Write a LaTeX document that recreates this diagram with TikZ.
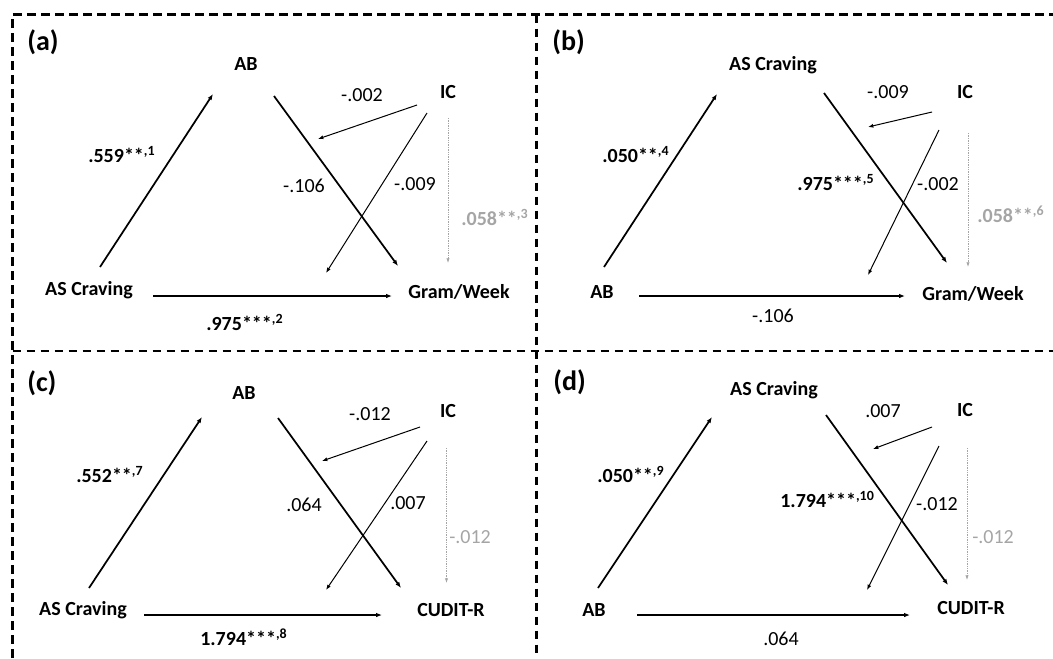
\documentclass[tikz,border=0pt]{standalone}
\usepackage{fontspec}
\setmainfont{Carlito}
\usetikzlibrary{arrows.meta,calc}
\definecolor{dimgray}{RGB}{165,165,165}

\begin{document}
\begin{tikzpicture}[x=0.75pt, y=-0.75pt,
    var/.style={anchor=base, inner sep=0pt, font=\fontsize{15}{18}\selectfont\bfseries},
    coef/.style={anchor=base, inner sep=0pt, font=\fontsize{15}{18}\selectfont},
    coefb/.style={coef, anchor=base west, font=\fontsize{15}{18}\selectfont\bfseries},
    tag/.style={anchor=base west, inner sep=0pt, font=\fontsize{21}{24}\selectfont\bfseries},
    pth/.style={line width=1.3pt, -{Latex[length=4.5pt,width=3.5pt]}},
    icpth/.style={line width=0.75pt, -{Latex[length=4pt,width=3pt]}},
    dotpth/.style={draw=dimgray, line width=0.6pt, dash pattern=on 1pt off 0.8pt, -{Latex[length=3.5pt,width=2.5pt]}},
    boxline/.style={line width=1.7pt, dash pattern=on 6.5pt off 4pt}
]
    \useasboundingbox (0,0) rectangle (1053,658);

    % dashed frame
    \draw[boxline] (12.5,658) -- (12.5,14.5) -- (1053,14.5);
    \draw[boxline] (536.5,14.5) -- (536.5,658);
    \draw[boxline] (12.5,351) -- (1053,351);

    % (a)
    \node[tag] (a-tag) at (27,50) {(a)};
    \node[var] (a-top) at (246,70) {AB};
    \node[var] (a-ic) at (448,98) {IC};
    \node[var] (a-left) at (89,295) {AS Craving};
    \node[var] (a-out) at (459,298) {Gram/Week};
    \coordinate (a-m1) at (318,139);
    \coordinate (a-m2) at (326,273);
    \draw[pth] ($(a-left.base)+(11,-28)$) -- ($(a-top.base)+(-33,24)$);
    \draw[pth] ($(a-top.base)+(28,26)$) -- ($(a-out.base)+(-61,-32)$);
    \draw[pth] ($(a-left.base)+(64,1)$) -- ($(a-out.base)+(-67,-2)$);
    \draw[icpth] ($(a-ic.base)+(-31,7)$) -- (a-m1);
    \draw[icpth] ($(a-ic.base)+(-21,15)$) -- (a-m2);
    \draw[dotpth] ($(a-ic.base)+(0,20)$) -- ($(a-out.base)+(-11,-35)$);
    \node[coefb] (a-c1) at (88,162) {.559**\textsuperscript{,1}};
    \node[coef] (a-c2) at (304,192) {-.106};
    \node[coef] (a-c3) at (415,190) {-.009};
    \node[coef] (a-c4) at (362,101) {-.002};
    \node[coefb, text=dimgray] (a-c5) at (461,225) {.058**\textsuperscript{,3}};
    \node[coefb] (a-c6) at (206,330) {.975***\textsuperscript{,2}};

    % (b)
    \node[tag] (b-tag) at (552,50) {(b)};
    \node[var] (b-top) at (773,70) {AS Craving};
    \node[var] (b-ic) at (965,98) {IC};
    \node[var] (b-left) at (602,298) {AB};
    \node[var] (b-out) at (973,300) {Gram/Week};
    \coordinate (b-m1) at (868,127);
    \coordinate (b-m2) at (868,275);
    \draw[pth] ($(b-left.base)+(2,-31)$) -- ($(b-top.base)+(-56,24)$);
    \draw[pth] ($(b-top.base)+(51,23)$) -- ($(b-out.base)+(-26,-37)$);
    \draw[pth] ($(b-left.base)+(37,-2)$) -- ($(b-out.base)+(-68,-4)$);
    \draw[icpth] ($(b-ic.base)+(-33,14)$) -- (b-m1);
    \draw[icpth] ($(b-ic.base)+(-26,32)$) -- (b-m2);
    \draw[dotpth] ($(b-ic.base)+(3,35)$) -- ($(b-out.base)+(-5,-33)$);
    \node[coefb] (b-c1) at (602,162) {.050**\textsuperscript{,4}};
    \node[coefb] (b-c2) at (797,190) {.975***\textsuperscript{,5}};
    \node[coef] (b-c3) at (938,190) {-.002};
    \node[coef] (b-c4) at (888,98) {-.009};
    \node[coefb, text=dimgray] (b-c5) at (977,222) {.058**\textsuperscript{,6}};
    \node[coef] (b-c6) at (773,322) {-.106};

    % (c)
    \node[tag] (c-tag) at (27,391) {(c)};
    \node[var] (c-top) at (244,399) {AB};
    \node[var] (c-ic) at (448,417) {IC};
    \node[var] (c-left) at (83,615) {AS Craving};
    \node[var] (c-out) at (451,616) {CUDIT-R};
    \coordinate (c-m1) at (322,461);
    \coordinate (c-m2) at (326,590);
    \draw[pth] ($(c-left.base)+(6,-27)$) -- ($(c-top.base)+(-42,18)$);
    \draw[pth] ($(c-top.base)+(34,19)$) -- ($(c-out.base)+(-50,-28)$);
    \draw[pth] ($(c-left.base)+(61,0)$) -- ($(c-out.base)+(-69,-1)$);
    \draw[icpth] ($(c-ic.base)+(-28,10)$) -- (c-m1);
    \draw[icpth] ($(c-ic.base)+(-21,24)$) -- (c-m2);
    \draw[dotpth] ($(c-ic.base)+(-1.5,31)$) -- ($(c-out.base)+(-4.5,-33)$);
    \node[coefb] (c-c1) at (76,482) {.552**\textsuperscript{,7}};
    \node[coef] (c-c2) at (304,511) {.064};
    \node[coef] (c-c3) at (408,509) {.007};
    \node[coef] (c-c4) at (370,420) {-.012};
    \node[coef, anchor=base west, text=dimgray] (c-c5) at (449,543) {-.012};
    \node[coefb] (c-c6) at (200,645) {1.794***\textsuperscript{,8}};

    % (d)
    \node[tag] (d-tag) at (553,390) {(d)};
    \node[var] (d-top) at (774,395) {AS Craving};
    \node[var] (d-ic) at (965,416) {IC};
    \node[var] (d-left) at (594,616) {AB};
    \node[var] (d-out) at (971,614) {CUDIT-R};
    \coordinate (d-m1) at (873,449);
    \coordinate (d-m2) at (867,590);
    \draw[pth] ($(d-left.base)+(4,-28)$) -- ($(d-top.base)+(-62,22)$);
    \draw[pth] ($(d-top.base)+(52,20)$) -- ($(d-out.base)+(-23,-29)$);
    \draw[pth] ($(d-left.base)+(43,-1)$) -- ($(d-out.base)+(-61,1)$);
    \draw[icpth] ($(d-ic.base)+(-33,11)$) -- (d-m1);
    \draw[icpth] ($(d-ic.base)+(-26,30)$) -- (d-m2);
    \draw[dotpth] ($(d-ic.base)+(2,32)$) -- ($(d-out.base)+(-4,-34)$);
    \node[coefb] (d-c1) at (597,482) {.050**\textsuperscript{,9}};
    \node[coefb] (d-c2) at (780,507) {1.794***\textsuperscript{,10}};
    \node[coef] (d-c3) at (937,510) {-.012};
    \node[coef] (d-c4) at (883,417) {.007};
    \node[coef, anchor=base west, text=dimgray] (d-c5) at (972,543) {-.012};
    \node[coef] (d-c6) at (781,645) {.064};
\end{tikzpicture}
\end{document}
